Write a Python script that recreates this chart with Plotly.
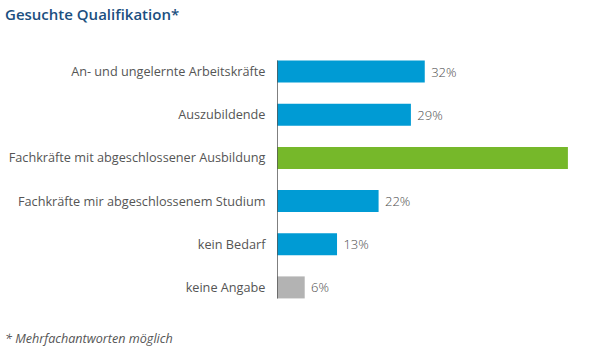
import plotly.graph_objects as go

categories = [
    "An- und ungelernte Arbeitskräfte",
    "Auszubildende",
    "Fachkräfte mit abgeschlossener Ausbildung",
    "Fachkräfte mir abgeschlossenem Studium",
    "kein Bedarf",
    "keine Angabe",
]
values = [32, 29, 63, 22, 13, 6]
value_labels = ["32%", "29%", "", "22%", "13%", "6%"]
bar_colors = ["#009bd4", "#009bd4", "#76b82a", "#009bd4", "#009bd4", "#b3b3b3"]

BARGAP = 0.49

fig = go.Figure(
    go.Bar(
        x=values,
        y=categories,
        orientation="h",
        marker=dict(color=bar_colors, line=dict(width=0)),
        text=[(" " + t) if t else "" for t in value_labels],
        textposition="outside",
        textfont=dict(family="Open Sans", size=13, color="#4d4d4d", weight=300),
        cliponaxis=False,
        hoverinfo="skip",
    )
)

L, R, T, B = 277, 9, 50, 41

fig.update_layout(
    width=600,
    height=350,
    margin=dict(l=L, r=R, t=T, b=B),
    paper_bgcolor="white",
    plot_bgcolor="white",
    bargap=BARGAP,
    showlegend=False,
    font=dict(family="Open Sans", color="#555555"),
    xaxis=dict(range=[0, 68], visible=False, fixedrange=True),
    yaxis=dict(
        autorange="reversed",
        showgrid=False,
        showline=False,
        zeroline=False,
        ticks="outside",
        ticklen=8,
        tickcolor="rgba(0,0,0,0)",
        tickfont=dict(family="Open Sans", size=12.7, color="#555555"),
        fixedrange=True,
    ),
)

# baseline spanning only the bars
half = (1 - BARGAP) / 2
fig.add_shape(
    type="line", xref="x", yref="y",
    x0=0, x1=0, y0=-half, y1=len(categories) - 1 + half,
    line=dict(color="#555555", width=1.5),
    layer="above",
)

pw = 600 - L - R
ph = 350 - T - B

def px2paper(px, py):
    return (px - L) / pw, 1 - (py - T) / ph

tx, ty = px2paper(3, 14)
fx, fy = px2paper(3, 338)
fig.add_annotation(
    text="Gesuchte Qualifikation*",
    x=tx, y=ty, xref="paper", yref="paper",
    xanchor="left", yanchor="middle", showarrow=False,
    font=dict(family="Open Sans", size=15, color="#1b4f80", weight=600),
)
fig.add_annotation(
    text="<i>* Mehrfachantworten möglich</i>",
    x=fx, y=fy, xref="paper", yref="paper",
    xanchor="left", yanchor="middle", showarrow=False,
    font=dict(family="Open Sans", size=12.6, color="#555555"),
)

fig.write_html("out.html")
